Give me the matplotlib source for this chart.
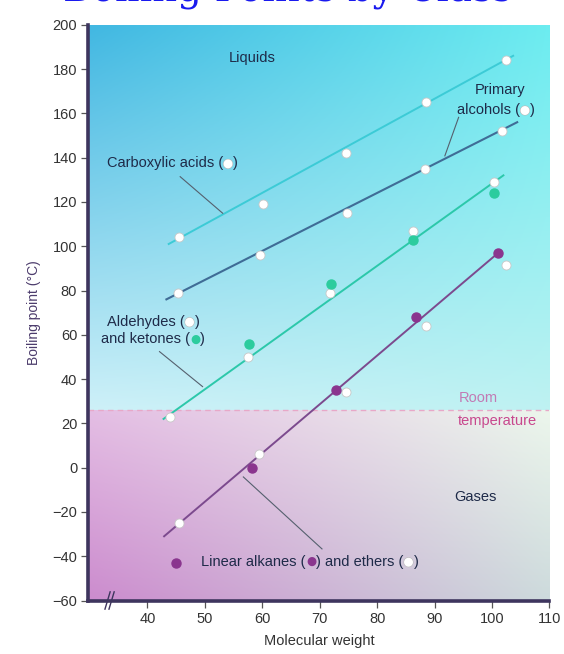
import numpy as np
import matplotlib
matplotlib.use("Agg")
import matplotlib.pyplot as plt
import matplotlib.patheffects as pe

# ---------------- data ----------------
acid_mw = [45.5, 60.1, 74.5, 88.5, 102.5]
acid_bp = [104, 119, 142, 165, 184]
alcohol_mw = [45.3, 59.6, 74.7, 88.4, 101.7]
alcohol_bp = [79, 96, 115, 135, 152]
aldehyde_mw = [44.0, 57.5, 71.8, 86.2, 100.3]
aldehyde_bp = [23, 50, 79, 107, 129]
ketone_mw = [57.6, 71.9, 86.2, 100.4]
ketone_bp = [56, 83, 103, 124]
alkane_mw = [45.0, 58.2, 72.8, 86.7, 101.1]
alkane_bp = [-43, 0, 35, 68, 97]
ether_mw = [45.5, 59.5, 74.6, 88.5, 102.5]
ether_bp = [-25, 6, 34, 64, 91.5]

# hand-drawn trend lines (end points)
acid_line_mw = [43.7, 103.7]
acid_line_bp = [101, 186]
alcohol_line_mw = [43.3, 104.4]
alcohol_line_bp = [76, 156]
aldehyde_line_mw = [42.8, 102.0]
aldehyde_line_bp = [22, 132]
alkane_line_mw = [42.9, 101.1]
alkane_line_bp = [-31, 97]

room_temperature = 26
x_ticks = [40, 50, 60, 70, 80, 90, 100, 110]
y_ticks = list(range(-60, 201, 20))
x_limits = (29.7, 110)
y_limits = (-60, 200)

# ---------------- figure ----------------
FONT = ["Liberation Sans", "DejaVu Sans"]
plt.rcParams["font.family"] = FONT

fig = plt.figure(figsize=(5.64, 6.54), dpi=100)
ax = fig.add_axes([0.1566, 0.0818, 0.974 - 0.1566, 0.9621 - 0.0818])
ax.set_xlim(*x_limits)
ax.set_ylim(*y_limits)


def grad(c_tl, c_tr, c_bl, c_br, n=60):
    c_tl, c_tr, c_bl, c_br = (np.array(c) / 255.0 for c in (c_tl, c_tr, c_bl, c_br))
    t = np.linspace(0, 1, n)[:, None, None]   # 0 top -> 1 bottom
    s = np.linspace(0, 1, n)[None, :, None]   # 0 left -> 1 right
    top = c_tl * (1 - s) + c_tr * s
    bot = c_bl * (1 - s) + c_br * s
    return top * (1 - t) + bot * t

upper = grad((66, 184, 226), (108, 236, 240), (205, 240, 248), (190, 242, 242))
lower = grad((228, 190, 228), (236, 246, 236), (204, 140, 206), (205, 218, 220))
ax.imshow(upper, extent=[x_limits[0], x_limits[1], room_temperature, y_limits[1]],
          aspect="auto", interpolation="bilinear", zorder=0)
ax.imshow(lower, extent=[x_limits[0], x_limits[1], y_limits[0], room_temperature],
          aspect="auto", interpolation="bilinear", zorder=0)
ax.set_xlim(*x_limits)
ax.set_ylim(*y_limits)

# room temperature line
ax.axhline(room_temperature, color="#e8a8c8", lw=1.0, ls=(0, (4, 3)), zorder=1)

# trend lines
ax.plot(acid_line_mw, acid_line_bp, color="#3ccbd6", lw=1.4, zorder=2)
ax.plot(alcohol_line_mw, alcohol_line_bp, color="#3f6c96", lw=1.5, zorder=2)
ax.plot(aldehyde_line_mw, aldehyde_line_bp, color="#2cc8aa", lw=1.4, zorder=2)
ax.plot(alkane_line_mw, alkane_line_bp, color="#7c4a8e", lw=1.4, zorder=2)

# points
white_kw = dict(marker="o", ms=6.5, mfc="white", mec="#c8c8c8", mew=0.6, ls="none", zorder=4)
ax.plot(acid_mw, acid_bp, **white_kw)
ax.plot(alcohol_mw, alcohol_bp, **white_kw)
ax.plot(aldehyde_mw, aldehyde_bp, **white_kw)
ax.plot(ether_mw, ether_bp, **white_kw)
ax.plot(ketone_mw, ketone_bp, marker="o", ms=6.5, mfc="#2ccc9e", mec="#2ccc9e",
        ls="none", zorder=4)
ax.plot(alkane_mw, alkane_bp, marker="o", ms=6.5, mfc="#8a358e", mec="#8a358e",
        ls="none", zorder=4)

# ---------------- labels ----------------
TXT = "#1e2a48"
FS = 10.5
DOT = "\u25CF"


def chain(x, y, pieces, fs=FS):
    prev = None
    for s, col in pieces:
        fam = ["DejaVu Sans"] if s == DOT else FONT
        kw = dict(fontsize=(fs * 0.8 if s == DOT else fs), color=col, family=fam, zorder=6)
        if col == "white":
            kw["path_effects"] = [pe.withStroke(linewidth=0.8, foreground="#b8b8b8")]
        if prev is None:
            prev = ax.text(x, y, s, ha="left", va="center", **kw)
        else:
            prev = ax.annotate(s, xy=(1, 0.5), xycoords=prev, ha="left", va="center", **kw)


ax.text(58.3, 185, "Liquids", ha="center", va="center", fontsize=FS, color=TXT)
ax.text(97.2, -13.3, "Gases", ha="center", va="center", fontsize=FS, color=TXT)

ax.text(101.5, 170.5, "Primary", ha="center", va="center", fontsize=FS, color=TXT)
chain(93.9, 161.5, [("alcohols (", TXT), (DOT, "white"), (")", TXT)])
chain(32.9, 137.4, [("Carboxylic acids (", TXT), (DOT, "white"), (")", TXT)])
chain(32.9, 65.9, [("Aldehydes (", TXT), (DOT, "white"), (")", TXT)])
chain(31.9, 57.9, [("and ketones (", TXT), (DOT, "#2ccc9e"), (")", TXT)])
chain(49.4, -42.5, [("Linear alkanes (", TXT), (DOT, "#8a358e"),
                    (") and ethers (", TXT), (DOT, "white"), (")", TXT)])

ax.text(94.2, 31.3, "Room", ha="left", va="center", fontsize=FS, color="#c27ab4")
ax.text(94.0, 21.1, "temperature", ha="left", va="center", fontsize=FS, color="#c8488e")

# leader lines
LEAD = "#55606e"
ax.plot([45.7, 53.1], [131.4, 114.9], color=LEAD, lw=0.8, zorder=3)
ax.plot([94.2, 91.8], [158.2, 140.8], color=LEAD, lw=0.8, zorder=3)
ax.plot([42.1, 49.6], [52.4, 36.6], color=LEAD, lw=0.8, zorder=3)
ax.plot([56.7, 70.4], [-4.2, -36.7], color=LEAD, lw=0.8, zorder=3)

# ---------------- axes styling ----------------
for side in ("top", "right"):
    ax.spines[side].set_visible(False)
for side in ("left", "bottom"):
    ax.spines[side].set_color("#3e355e")
    ax.spines[side].set_linewidth(2.6)
    ax.spines[side].set_zorder(7)

ax.set_xticks(x_ticks)
ax.set_yticks(y_ticks)
ax.tick_params(axis="both", direction="out", length=5, width=0.9, color="#555555",
               labelsize=FS, labelcolor="#333333", pad=3)
ax.set_ylabel("Boiling point (\u00B0C)", fontsize=10, color="#4c3c6c", labelpad=8)
ax.set_xlabel("Molecular weight", fontsize=10.5, color="#333333", labelpad=6)

# axis break mark
tr = ax.get_xaxis_transform()
for dx in (-0.35, 0.35):
    ax.plot([33.4 + dx - 0.45, 33.4 + dx + 0.45], [-0.015, 0.015], transform=tr,
            color="#3e355e", lw=1.0, clip_on=False, zorder=8)

# slide title, cut off at the top edge as in the source image
fig.text(0.51, 1 - 1 / 654, "Boiling Points by Class", ha="center", va="baseline",
         fontsize=28, color="#1a1aee", family="DejaVu Serif")

fig.savefig("out.png", dpi=100)
